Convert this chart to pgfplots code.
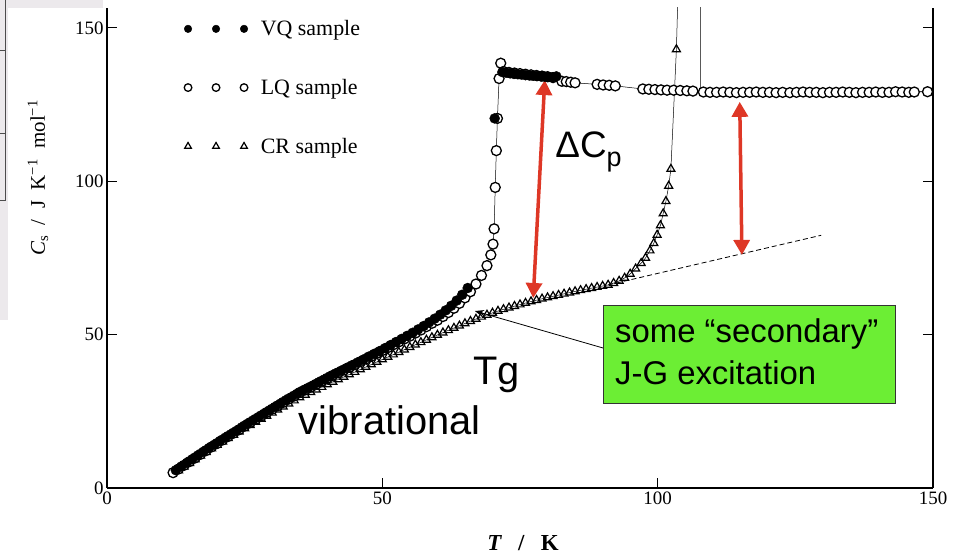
\documentclass[border=0pt]{standalone}
\usepackage{fontspec}
\setmainfont{Liberation Serif}
\newfontfamily\arial{Liberation Sans}
\usepackage{pgfplots}
\pgfplotsset{compat=1.18}
\usetikzlibrary{arrows.meta}
\definecolor{arrowred}{RGB}{222,55,38}
\definecolor{boxgreen}{RGB}{108,238,52}
\definecolor{panelgray}{RGB}{236,233,236}

\begin{document}
\begin{tikzpicture}[x=1bp,y=1bp]
\useasboundingbox (0,0) rectangle (964,556);
% edge of the neighbouring panel
\fill[panelgray] (0,548) rectangle (103,556);
\fill[panelgray] (0,236) rectangle (8,556);
\draw[line width=0.8bp, black!70] (5,556) -- (5,356) -- (0,356);
\draw[line width=0.8bp, black!70] (0,506) -- (5,506) (0,423) -- (5,423);

\begin{axis}[
  at={(107bp,68bp)}, anchor=south west,
  scale only axis, width=826bp, height=480bp,
  xmin=0, xmax=150, ymin=0, ymax=156.5,
  axis x line*=bottom, axis y line*=box,
  xtick={0,50,100,150}, ytick={0,50,100,150},
  tick align=inside, major tick length=10bp,
  major tick style={line width=1bp, black},
  axis line style={line width=1.4bp, black},
  tick label style={font=\fontsize{19}{19}\selectfont},
  /pgf/number format/assume math mode=true,
  legend style={at={(0.0935,0.9739)}, anchor=north west, draw=none, fill=none,
    inner sep=0pt, outer sep=0pt, font=\fontsize{22}{22}\selectfont,
    row sep=42bp, column sep=13bp, nodes={inner sep=0pt}},
  legend cell align=left,
  reverse legend,
  legend image code/.code={\draw plot[only marks, mark size=3.8bp] coordinates {(0bp,0bp) (28bp,0bp) (56bp,0bp)};},
]

% CR sample (crystal)
\addplot[black, line width=0.5bp, mark=triangle, mark size=4.6bp, mark options={line width=1.2bp}]
coordinates {
(13,5.7) (14,6.9) (15,8.1) (16,9.3) (17,10.5) (18,11.7) (19,12.85) (20,14) (21,15.1) (22,16.2)
(23,17.3) (24,18.35) (25,19.4) (26,20.45) (27,21.5) (28,22.5) (29,23.5) (30,24.5) (31,25.5)
(32,26.5) (33,27.5) (34,28.5) (35,29.5) (36,30.35) (37,31.2) (38,32.05) (39,32.9) (40,33.75)
(41,34.6) (42,35.4) (43,36.2) (44,37) (45,37.8) (46,38.65) (47,39.45) (48,40.25) (49,41.1)
(50,41.9) (51,42.7) (52,43.5) (53,44.3) (54,45.1) (55,45.9) (56,46.7) (57,47.5) (58,48.3)
(59,49.1) (60,49.9) (61,50.65) (62,51.4) (63,52.15) (64,52.9) (65,53.65) (66,54.4) (67,55.1)
(68,55.8) (69,56.45) (70,57.1) (71,57.7) (72,58.25) (73,58.8) (74,59.3) (75,59.8) (76,60.3)
(77,60.8) (78,61.25) (79,61.7) (80,62.1) (81,62.5) (82,62.9) (83,63.3) (84,63.7) (85,64.1)
(86,64.45) (87,64.8) (88,65.15) (89,65.5) (90,65.85) (91,66.2) (92,66.8) (93,67.5) (94,68.5)
(95,69.8) (96,71.5) (97,73.3) (97.8,75) (98.6,77.4) (99.3,79.8) (99.9,82.5) (100.5,85.6)
(101,89.5) (101.5,93.5) (102,98.5) (102.4,104) (103.4,143)
};
\addlegendentry{CR sample}

% CR sample: fusion peak and melt
\addplot[black, line width=0.5bp, forget plot] coordinates {
(103.4,143) (103.9,175) (107.8,175) (107.8,129.3) (108.3,129.1) (149.0,129.2)
};

% LQ sample
\addplot[black, line width=0.5bp, mark=*, mark size=5bp, mark options={line width=1.3bp, fill=white}]
coordinates {
(12,5.0) (13,6.2) (14,7.4) (15,8.6) (16,9.8) (17,11.0) (18,12.2) (19,13.4) (20,14.5) (21,15.65)
(22,16.8) (23,17.9) (24,19.0) (25,20.2) (26,21.3) (27,22.4) (28,23.5) (29,24.6) (30,25.7)
(31,26.8) (32,27.9) (33,29.0) (34,30.0) (35,31.1) (36,32.0) (37,32.9) (38,33.85) (39,34.8)
(40,35.75) (41,36.7) (42,37.55) (43,38.45) (44,39.35) (45,40.2) (46,41.15) (47,42.05) (48,42.95)
(49,43.9) (50,44.8) (51,45.75) (52,46.7) (53,47.65) (54,48.6) (55,49.5) (56,50.5) (57,51.5)
(58,52.6) (59,53.7) (60,54.7) (61,55.9) (62,57.2) (63,58.6) (64,60.2) (65,62.0) (66,64.0)
(67,66.5) (68,69.3) (69,72.5) (69.7,76) (70.1,79.5) (70.3,84.5) (70.5,98) (70.7,110)
(70.9,120.5) (71.2,133.5) (71.5,138.5) (72,135.8) (73,135.5) (74,135.3) (75,135.1) (76,134.9)
(77,134.7) (78,134.5) (79,134.3) (80,134.1) (81,133.8) (82.6,132.6) (83.4,132.5) (84.2,132.3)
(85,132.1) (89,131.6) (90.1,131.4) (91.2,131.3) (92.3,131.1) (97.3,130.1) (98.4,130)
(99.5,129.9) (100.6,129.8) (101.7,129.7) (102.9,129.7) (104.1,129.6) (105.3,129.5) (106.4,129.4)
(108.3,129.1) (109.5,129.0) (110.7,129.0) (111.9,129.1) (113.1,129.0) (114.3,128.9) (115.5,129.0)
(116.7,129.0) (117.9,129.1) (119.1,129.0) (120.3,129.0) (121.5,128.9) (122.7,129.0) (124.0,128.9)
(125.2,129.0) (126.4,129.1) (127.6,129.0) (128.8,129.0) (130.0,128.9) (131.2,129.0) (132.4,129.0)
(133.6,129.1) (134.8,129.0) (136.0,128.9) (137.2,129.0) (138.4,129.0) (139.6,129.1) (140.8,129.0)
(142.0,129.0) (143.2,129.2) (144.4,129.1) (145.6,129.0) (146.6,129.1) (149.0,129.2)
};
\addlegendentry{LQ sample}

% VQ sample
\addplot[black, only marks, mark=*, mark size=5bp]
coordinates {
(12.5,5.8) (13.5,7.0) (14.5,8.2) (15.5,9.4) (16.5,10.6) (17.5,11.8) (18.5,13.0) (19.5,14.1)
(20.5,15.3) (21.5,16.4) (22.5,17.5) (23.5,18.6) (24.5,19.8) (25.5,20.9) (26.5,22.0) (27.5,23.1)
(28.5,24.2) (29.5,25.3) (30.5,26.4) (31.5,27.5) (32.5,28.6) (33.5,29.6) (34.5,30.7) (35.5,31.7)
(36.5,32.6) (37.5,33.5) (38.5,34.5) (39.5,35.4) (40.5,36.4) (41.5,37.3) (42.5,38.2) (43.5,39.1)
(44.5,40.0) (45.5,40.9) (46.5,41.8) (47.5,42.8) (48.5,43.7) (49.5,44.6) (50.5,45.6) (51.5,46.6)
(52.5,47.6) (53.5,48.6) (54.5,49.6) (55.5,50.6) (56.5,51.7) (57.5,52.8) (58.5,54.0) (59.5,55.2)
(60.5,56.5) (61.5,57.9) (62.5,59.4) (63.5,61.1) (64.5,63.0) (65.5,65.2)
(70.4,120.5)
(71.8,135.6) (72.5,135.4) (73.2,135.2) (73.9,135.0) (74.6,134.9) (75.3,134.8) (76.0,134.6)
(76.7,134.5) (77.4,134.4) (78.1,134.3) (78.8,134.2) (79.5,134.1) (80.2,134.0) (80.9,133.9)
(81.6,134.2)
};
\addlegendentry{VQ sample}

% vibrational baseline extrapolated above Tg
\addplot[black, line width=0.8bp, dash pattern=on 5bp off 3bp, forget plot]
coordinates {(91,66.2) (129.7,82.4)};

% Delta Cp arrows
\draw[arrowred, line width=3.5bp, {Triangle[width=16bp,length=15bp]}-{Triangle[width=16bp,length=15bp]}]
  (axis cs:79.5,133.0) -- (axis cs:77.4,61.95);
\draw[arrowred, line width=3.5bp, {Triangle[width=16bp,length=15bp]}-{Triangle[width=16bp,length=15bp]}]
  (axis cs:114.9,125.9) -- (axis cs:115.3,76.0);

\node[anchor=base west, inner sep=0pt, font=\arial\fontsize{37}{37}\selectfont]
  at (axis cs:81.4,107.6) {ΔC\raisebox{-0.22em}{\fontsize{27}{27}\selectfont p}};
\node[anchor=base west, inner sep=0pt, font=\arial\fontsize{40}{40}\selectfont]
  at (axis cs:66.46,33.6) {Tg};
\node[anchor=base west, inner sep=0pt, font=\arial\fontsize{40}{40}\selectfont]
  at (axis cs:34.8,17.3) {vibrational};

% secondary relaxation callout
\draw[black, line width=0.8bp, -{Stealth[length=9bp,width=7bp]}]
  (axis cs:90.07,45.65) -- (axis cs:66.8,57.7);
\filldraw[fill=boxgreen, draw=black!80, line width=0.7bp]
  (axis cs:90.07,27.7) rectangle (axis cs:143.1,59.7);
\node[anchor=base west, inner sep=0pt, font=\arial\fontsize{33}{33}\selectfont]
  at (axis cs:92.25,47.3) {some “secondary”};
\node[anchor=base west, inner sep=0pt, font=\arial\fontsize{33}{33}\selectfont]
  at (axis cs:92.25,33.6) {J-G excitation};
\end{axis}

\node[rotate=90, font=\fontsize{21}{21}\selectfont] at (38,378)
  {\textit{C}\textsubscript{s}\hspace{0.5em}/\hspace{0.5em}J\hspace{0.5em}K\textsuperscript{−1}\hspace{0.5em}mol\textsuperscript{−1}};
\node[font=\fontsize{23}{23}\selectfont] at (523,13)
  {\textbf{\textit{T}}\hspace{0.7em}\textbf{/}\hspace{0.7em}\textbf{K}};
\end{tikzpicture}
\end{document}
